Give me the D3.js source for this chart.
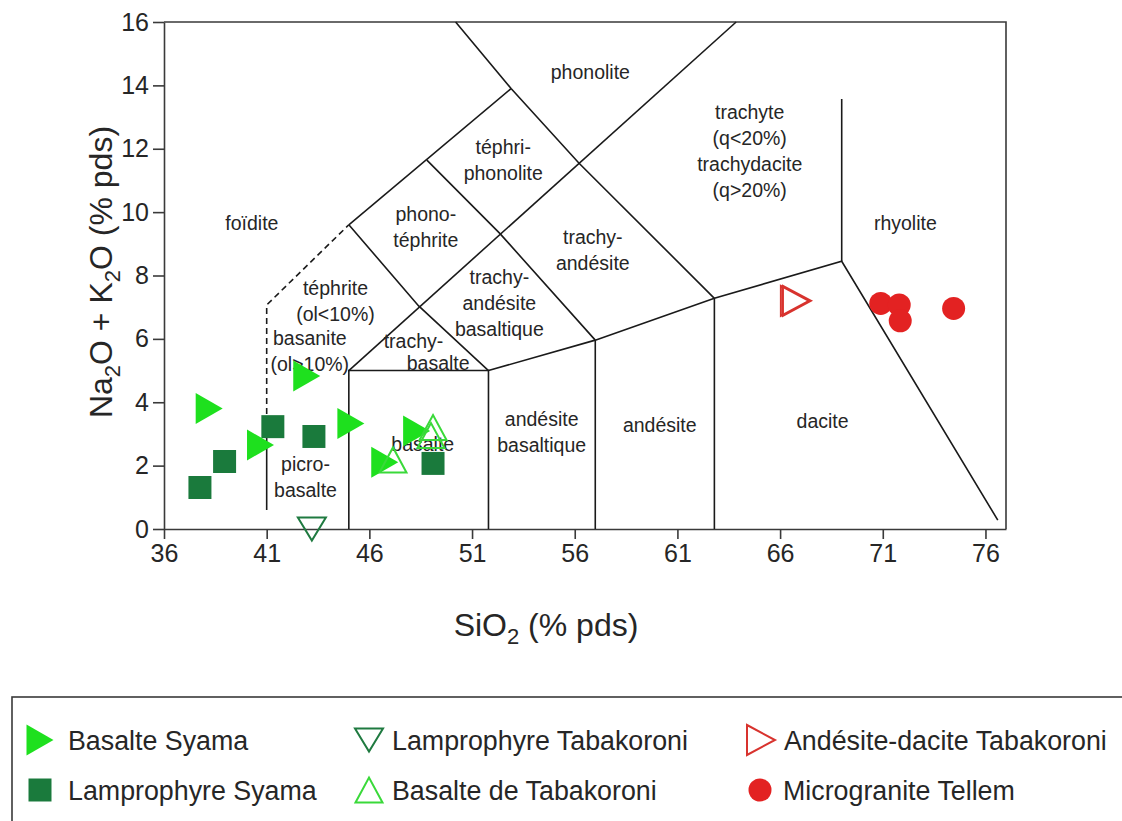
<!DOCTYPE html>
<html><head><meta charset="utf-8">
<script src="https://cdn.jsdelivr.net/npm/d3@7/dist/d3.min.js"></script>
<style>
body{margin:0;background:#fff}
svg text{font-family:"Liberation Sans",Arial,Helvetica,sans-serif;fill:#262626}
</style>
</head><body>
<svg id="c" width="1122" height="821"></svg>
<script>
// ---------- data ----------
const xTicks = [36, 41, 46, 51, 56, 61, 66, 71, 76];
const yTicks = [0, 2, 4, 6, 8, 10, 12, 14, 16];

const basalteSyama   = [[38.2,3.8],[40.7,2.65],[42.95,4.83],[45.1,3.33],[46.75,2.11],[48.3,3.09]];
const lamproSyama    = [[37.75,1.31],[38.95,2.13],[41.3,3.23],[43.3,2.92],[49.1,2.07]];
const lamproTaba     = [[43.2,0.0]];
const basalteTaba    = [[49.1,3.2],[49.0,2.95],[47.15,2.18]];
const andesiteTaba   = [[66.72,7.2],[66.82,7.2]];
const microTellem    = [[70.9,7.12],[71.8,7.07],[71.85,6.57],[74.45,6.96]];

// TAS field boundaries (SiO2, Na2O+K2O)
const solidLines = [
  [[41,3],[41,0.6]],
  [[45,0],[45,5],[51.8,5],[51.8,0]],
  [[57,0],[57,5.96]],
  [[62.8,0],[62.8,7.28]],
  [[51.8,5],[57,5.96],[62.8,7.28],[69,8.45],[76.6,0.28]],
  [[69,8.45],[69,13.57]],
  [[45,5],[63.86,16]],
  [[45,9.6],[52.9,13.9]],
  [[50.2,16],[52.9,13.9],[56.2,11.55],[62.8,7.28]],
  [[45,9.6],[48.4,7.04],[51.8,5]],
  [[48.8,11.64],[52.35,9.33],[57,5.96]]
];
const dashedLines = [
  [[41,3],[41,7.07],[45,9.6]]
];

// field names: [SiO2, alkali, lines]
const fieldLabels = [
  [56.76,14.42,["phonolite"]],
  [52.52,11.64,["téphri-","phonolite"]],
  [40.28,9.66,["foïdite"]],
  [48.75,9.53,["phono-","téphrite"]],
  [56.88,8.79,["trachy-","andésite"]],
  [52.33,7.13,["trachy-","andésite","basaltique"]],
  [44.35,7.19,["téphrite","(ol<10%)"]],
  [43.1,5.62,["basanite","(ol>10%)"]],
  [48.15,5.92,["trachy-"]],
  [49.35,5.24,["basalte"]],
  [48.6,2.68,["basalte"]],
  [42.89,1.63,["picro-","basalte"]],
  [54.39,3.06,["andésite","basaltique"]],
  [60.14,3.28,["andésite"]],
  [68.07,3.41,["dacite"]],
  [64.52,11.91,["trachyte","(q<20%)","trachydacite","(q>20%)"]],
  [72.1,9.66,["rhyolite"]]
];

const legendNames = ["Basalte Syama","Lamprophyre Syama","Lamprophyre Tabakoroni","Basalte de Tabakoroni","Andésite-dacite Tabakoroni","Microgranite Tellem"];

// ---------- chart ----------
const svg = d3.select("#c");
const x = d3.scaleLinear().domain([36,77]).range([164,1006]);
const y = d3.scaleLinear().domain([0,16]).range([529,22]);

const lineGen = d3.line().x(d=>x(d[0])).y(d=>y(d[1]));

// frame top/right
svg.append("path").attr("d",`M${x(36)},${y(16)}H${x(77)}V${y(0)}`)
  .attr("fill","none").attr("stroke","#3a3a3a").attr("stroke-width",1.6);

// axes
const gx = svg.append("g").attr("transform",`translate(0,${y(0)})`)
  .call(d3.axisBottom(x).tickValues(xTicks).tickSize(10).tickSizeOuter(0).tickPadding(5).tickFormat(d3.format("d")));
const gy = svg.append("g").attr("transform",`translate(${x(36)},0)`)
  .call(d3.axisLeft(y).tickValues(yTicks).tickSize(11).tickSizeOuter(0).tickPadding(4).tickFormat(d3.format("d")));
[gx,gy].forEach(g=>{
  g.selectAll("path,line").attr("stroke","#3a3a3a").attr("stroke-width",1.6);
  g.selectAll("text").attr("font-size",25).attr("fill","#262626")
   .attr("font-family","Liberation Sans, Arial, sans-serif");
});

// boundaries
svg.append("g").selectAll("path").data(solidLines).join("path")
  .attr("d",lineGen).attr("fill","none").attr("stroke","#1a1a1a").attr("stroke-width",1.6);
svg.append("g").selectAll("path").data(dashedLines).join("path")
  .attr("d",lineGen).attr("fill","none").attr("stroke","#1a1a1a").attr("stroke-width",1.6)
  .attr("stroke-dasharray","6,4");

// field labels
const lh = 26;
const fl = svg.append("g").attr("font-size",19.5).attr("text-anchor","middle");
fieldLabels.forEach(([sx,al,lines])=>{
  const t = fl.append("text").attr("x",x(sx)).attr("y",y(al) - (lines.length-1)*lh/2).attr("dy","0.35em");
  lines.forEach((s,i)=>t.append("tspan").attr("x",x(sx)).attr("dy",i===0?"0.35em":lh).text(s));
});

// marker shapes
const shapes = {
  right: (w,h)=>`M${-w/2},${-h/2}L${w/2},0L${-w/2},${h/2}Z`,
  up:    (w,h)=>`M${-w/2},${h/2}L0,${-h/2}L${w/2},${h/2}Z`,
  down:  (w,h)=>`M${-w/2},${-h/2}L${w/2},${-h/2}L0,${h/2}Z`,
  square:(w)=>`M${-w/2},${-w/2}h${w}v${w}h${-w}Z`,
  circle:(r)=>`M${r},0A${r},${r} 0 1,1 ${-r},0A${r},${r} 0 1,1 ${r},0Z`
};
const series = [
  {data:basalteSyama, d:shapes.right(27,31), fill:"#1ee01e", stroke:"none", sw:0},
  {data:lamproSyama,  d:shapes.square(23),   fill:"#1a7a3c", stroke:"none", sw:0},
  {data:lamproTaba,   d:shapes.down(28,23),  fill:"none", stroke:"#1f7a40", sw:2},
  {data:basalteTaba,  d:shapes.up(27,25),    fill:"none", stroke:"#3ad93a", sw:2},
  {data:andesiteTaba, d:shapes.right(28,30), fill:"none", stroke:"#d8332e", sw:2},
  {data:microTellem,  d:shapes.circle(11.5), fill:"#e32222", stroke:"none", sw:0}
];
const order = [4,5,1,0,3,2];
order.forEach(i=>{
  const s = series[i];
  svg.append("g").selectAll("path").data(s.data).join("path")
    .attr("transform",d=>`translate(${x(d[0])},${y(d[1])})`)
    .attr("d",s.d).attr("fill",s.fill).attr("stroke",s.stroke).attr("stroke-width",s.sw);
});

// axis titles
const xt = svg.append("text").attr("x",546).attr("y",636).attr("text-anchor","middle").attr("font-size",32);
xt.append("tspan").text("SiO");
xt.append("tspan").attr("dy",8).attr("font-size",22).text("2");
xt.append("tspan").attr("dy",-8).text(" (% pds)");

const yt = svg.append("text").attr("transform","translate(112,272) rotate(-90)").attr("text-anchor","middle").attr("font-size",32);
yt.append("tspan").text("Na");
yt.append("tspan").attr("dy",8).attr("font-size",22).text("2");
yt.append("tspan").attr("dy",-8).text("O + K");
yt.append("tspan").attr("dy",8).attr("font-size",22).text("2");
yt.append("tspan").attr("dy",-8).text("O (% pds)");

// legend
svg.append("rect").attr("x",12).attr("y",697).attr("width",1130).attr("height",140)
  .attr("fill","none").attr("stroke","#3a3a3a").attr("stroke-width",1.6);
const legPos = [[40,740],[40,790],[369,740],[369,790],[761,740],[760,790]];
const legG = svg.append("g").attr("font-size",26.8);
series.forEach((s,i)=>{
  const [lx,ly] = legPos[i];
  legG.append("path").attr("transform",`translate(${lx},${ly})`)
    .attr("d",s.d).attr("fill",s.fill).attr("stroke",s.stroke).attr("stroke-width",s.sw);
  legG.append("text").attr("x",lx+(i<2?28:23)).attr("y",ly).attr("dy","0.36em").text(legendNames[i]);
});
</script>
</body></html>
